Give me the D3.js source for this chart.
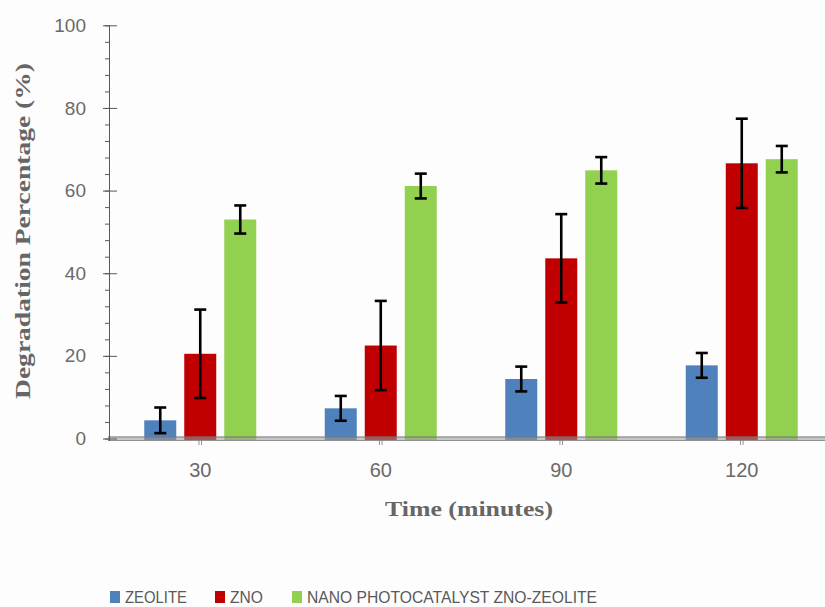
<!DOCTYPE html>
<html>
<head>
<meta charset="utf-8">
<script src="https://cdn.jsdelivr.net/npm/d3@7"></script>
<style>
  body { margin: 0; background: #fdfdfd; }
  svg { display: block; }
</style>
</head>
<body>
<div id="chart"></div>
<script>
const width = 825;
const height = 607;

// data
const categories = ['30', '60', '90', '120'];
const seriesNames = ['ZEOLITE', 'ZNO', 'NANO PHOTOCATALYST ZNO-ZEOLITE'];
const zeolite = [4.4, 7.3, 14.4, 17.7];
const zeoliteErr = [3.1, 3.0, 3.0, 3.0];
const zno = [20.5, 22.5, 43.6, 66.6];
const znoErr = [10.7, 10.8, 10.7, 10.8];
const nano = [53.0, 61.1, 64.9, 67.6];
const nanoErr = [3.4, 3.0, 3.2, 3.2];
const yTicks = [0, 20, 40, 60, 80, 100];
const colors = ['#4f81bd', '#c00000', '#92d050'];

const values = [zeolite, zno, nano];
const errors = [zeoliteErr, znoErr, nanoErr];

const sansFont = '"Liberation Sans", Arial, sans-serif';

let svg = d3.select('#chart').append('svg')
    .attr('width', width)
    .attr('height', height);

let x = d3.scaleBand().domain(categories).range([110, 832]).padding(0);
let xs = d3.scaleBand().domain(d3.range(3)).range([0, 112]).paddingInner(0.2).paddingOuter(0);
let y = d3.scaleLinear().domain([0, 100]).range([438.5, 25.3]);

let rows = [];
categories.forEach((c, i) => {
  values.forEach((s, k) => {
    rows.push({cat: c, k: k, v: s[i], e: errors[k][i]});
  });
});

// bars
svg.append('g').selectAll('rect')
    .data(rows)
    .enter().append('rect')
    .attr('x', d => x(d.cat) + x.bandwidth() / 2 - 56 + xs(d.k))
    .attr('y', d => y(d.v))
    .attr('width', xs.bandwidth())
    .attr('height', d => y(0) - y(d.v) + 1.5)
    .attr('fill', d => colors[d.k]);

// baseline (drawn over bar bottoms)
let base = svg.append('g');
base.append('rect')
    .attr('x', 108).attr('y', 436.5)
    .attr('width', width - 108).attr('height', 4)
    .attr('fill', '#9a9a9a').attr('opacity', 0.55);
base.append('line')
    .attr('x1', 108).attr('x2', width)
    .attr('y1', 437).attr('y2', 437)
    .attr('stroke', '#6f6f6f').attr('stroke-width', 1).attr('opacity', 0.8);
base.append('line')
    .attr('x1', 108).attr('x2', width)
    .attr('y1', 440.5).attr('y2', 440.5)
    .attr('stroke', '#7f7f7f').attr('stroke-width', 1).attr('opacity', 0.8);

// little double tick marks at category centres
let xt = svg.append('g');
categories.forEach(c => {
  [-1.3, 1.3].forEach(o => {
    xt.append('line')
        .attr('x1', x(c) + x.bandwidth() / 2 + o)
        .attr('x2', x(c) + x.bandwidth() / 2 + o)
        .attr('y1', 440).attr('y2', 445)
        .attr('stroke', '#777').attr('stroke-width', 0.8);
  });
});

// error bars
let eb = svg.append('g').attr('stroke', '#000').attr('stroke-width', 2.6);
rows.forEach(d => {
  let cx = x(d.cat) + x.bandwidth() / 2 - 56 + xs(d.k) + xs.bandwidth() / 2;
  eb.append('line').attr('x1', cx).attr('x2', cx)
      .attr('y1', y(d.v + d.e)).attr('y2', y(d.v - d.e));
  eb.append('line').attr('x1', cx - 6).attr('x2', cx + 6)
      .attr('y1', y(d.v + d.e)).attr('y2', y(d.v + d.e));
  eb.append('line').attr('x1', cx - 6).attr('x2', cx + 6)
      .attr('y1', y(d.v - d.e)).attr('y2', y(d.v - d.e));
});

// y axis: minor ticks every 4
let minor = d3.range(0, 101, 4);
svg.append('g')
    .attr('transform', 'translate(109,0)')
    .call(d3.axisLeft(y).tickValues(minor).tickSize(4).tickFormat(''))
    .call(g => g.select('.domain').remove())
    .selectAll('line').attr('stroke', '#595959');

let yAxis = svg.append('g')
    .attr('transform', 'translate(109,0)')
    .call(d3.axisLeft(y).tickValues(yTicks).tickSize(6).tickPadding(17).tickSizeOuter(0));
yAxis.select('.domain').attr('stroke', '#595959').attr('d', 'M0.5,' + y(100) + 'V441');
yAxis.selectAll('.tick line').attr('stroke', '#595959').attr('x1', -6).attr('x2', 8);
yAxis.selectAll('text')
    .attr('fill', '#6a6a6a')
    .style('font-family', sansFont)
    .style('font-size', '19px');

// x labels
svg.append('g').selectAll('text')
    .data(categories)
    .enter().append('text')
    .attr('x', d => x(d) + x.bandwidth() / 2)
    .attr('y', 477)
    .attr('text-anchor', 'middle')
    .attr('fill', '#6a6a6a')
    .style('font-family', sansFont)
    .style('font-size', '20px')
    .text(d => d);

// axis titles
svg.append('text')
    .attr('x', 469).attr('y', 516)
    .attr('text-anchor', 'middle')
    .attr('fill', '#666')
    .style('font-family', '"Liberation Serif", serif')
    .style('font-weight', 'bold')
    .style('font-size', '20px')
    .attr('textLength', 168).attr('lengthAdjust', 'spacingAndGlyphs')
    .text('Time (minutes)');

svg.append('text')
    .attr('transform', 'translate(30,231) rotate(-90)')
    .attr('text-anchor', 'middle')
    .attr('fill', '#666')
    .style('font-family', '"Liberation Serif", serif')
    .style('font-weight', 'bold')
    .style('font-size', '21px')
    .attr('textLength', 336).attr('lengthAdjust', 'spacingAndGlyphs')
    .text('Degradation  Percentage (%)');

// legend
const legendX = [110, 215, 292];
const legendW = [62, 33, 290];
let legend = svg.append('g');
seriesNames.forEach((n, k) => {
  legend.append('rect')
      .attr('x', legendX[k]).attr('y', 591)
      .attr('width', 10).attr('height', 12)
      .attr('fill', colors[k]);
  legend.append('text')
      .attr('x', legendX[k] + 15).attr('y', 603)
      .attr('fill', '#595959')
      .style('font-family', sansFont)
      .style('font-size', '17px')
      .attr('textLength', legendW[k]).attr('lengthAdjust', 'spacingAndGlyphs')
      .text(n);
});
</script>
</body>
</html>
